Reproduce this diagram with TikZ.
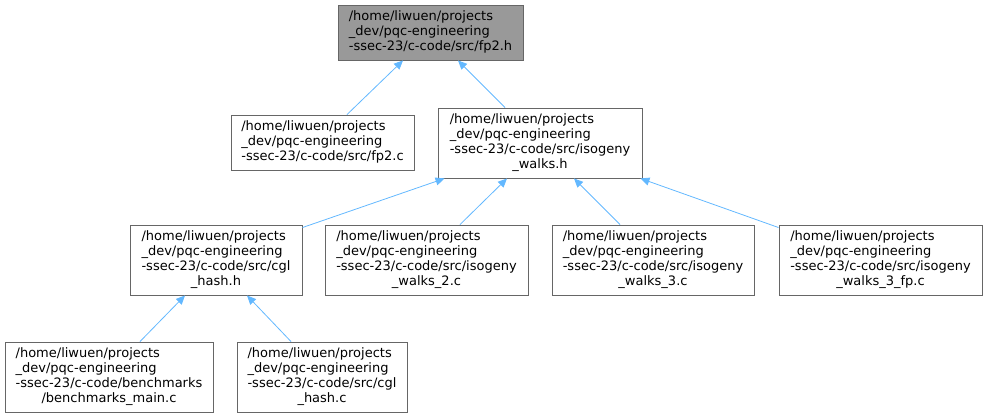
\documentclass[tikz,border=0pt]{standalone}
\usepackage{fontspec}
\setmainfont{DejaVu Sans}
\usetikzlibrary{arrows.meta}
\definecolor{edgeblue}{HTML}{63B8FF}
\definecolor{boxgray}{HTML}{666666}
\definecolor{rootgray}{HTML}{999999}
\newcommand{\pathtxt}[2]{\begin{tabular}{@{}l@{}}#1\\\multicolumn{1}{@{}c@{}}{#2}\end{tabular}}

\begin{document}
\begin{tikzpicture}[
  x=1pt, y=-1pt,
  file/.style={draw=boxgray, line width=0.9pt, fill=white, inner sep=0pt,
               font=\fontsize{13}{15}\selectfont, minimum height=70pt},
  root/.style={file, fill=rootgray, minimum height=55pt},
  dep/.style={{Triangle[length=9pt, width=8pt]}-, draw=edgeblue, line width=0.8pt}
]
\useasboundingbox (0,0) rectangle (987,417);
% top level
\node[root, minimum width=185pt] (fph) at (430.5,32.5)
  {\pathtxt{/home/liwuen/projects\\\_dev/pqc-engineering}{-ssec-23/c-code/src/fp2.h}};
% second level
\node[file, minimum width=183pt, minimum height=55pt] (fpc) at (322.5,142.5)
  {\pathtxt{/home/liwuen/projects\\\_dev/pqc-engineering}{-ssec-23/c-code/src/fp2.c}};
\node[file, minimum width=204pt] (walksh) at (540,143)
  {\pathtxt{/home/liwuen/projects\\\_dev/pqc-engineering\\-ssec-23/c-code/src/isogeny}{\_walks.h}};
% third level
\node[file, minimum width=172pt] (cglh) at (216,260)
  {\pathtxt{/home/liwuen/projects\\\_dev/pqc-engineering\\-ssec-23/c-code/src/cgl}{\_hash.h}};
\node[file, minimum width=203pt] (walkstwo) at (426.5,260)
  {\pathtxt{/home/liwuen/projects\\\_dev/pqc-engineering\\-ssec-23/c-code/src/isogeny}{\_walks\_2.c}};
\node[file, minimum width=202pt] (walksthree) at (653,260)
  {\pathtxt{/home/liwuen/projects\\\_dev/pqc-engineering\\-ssec-23/c-code/src/isogeny}{\_walks\_3.c}};
\node[file, minimum width=203pt] (walksfp) at (880.5,260)
  {\pathtxt{/home/liwuen/projects\\\_dev/pqc-engineering\\-ssec-23/c-code/src/isogeny}{\_walks\_3\_fp.c}};
% bottom level
\node[file, minimum width=208pt] (bench) at (109,377)
  {\pathtxt{/home/liwuen/projects\\\_dev/pqc-engineering\\-ssec-23/c-code/benchmarks}{/benchmarks\_main.c}};
\node[file, minimum width=170pt] (cglc) at (322,377)
  {\pathtxt{/home/liwuen/projects\\\_dev/pqc-engineering\\-ssec-23/c-code/src/cgl}{\_hash.c}};

\draw[dep] ([xshift=-27.5pt]fph.south) -- ([xshift=24.5pt]fpc.north);
\draw[dep] ([xshift=27.5pt]fph.south) -- ([xshift=-35pt]walksh.north);
\draw[dep] ([xshift=7pt]walksh.south west) -- ([yshift=-3pt]cglh.north east);
\draw[dep] ([xshift=-33pt]walksh.south) -- ([xshift=33.5pt]walkstwo.north);
\draw[dep] ([xshift=34pt]walksh.south) -- ([xshift=-33pt]walksthree.north);
\draw[dep] ([xshift=-2pt]walksh.south east) -- ([yshift=-3pt]walksfp.north west);
\draw[dep] ([xshift=-31pt]cglh.south) -- ([xshift=31pt]bench.north);
\draw[dep] ([xshift=31pt]cglh.south) -- ([xshift=-31pt]cglc.north);
\end{tikzpicture}
\end{document}
